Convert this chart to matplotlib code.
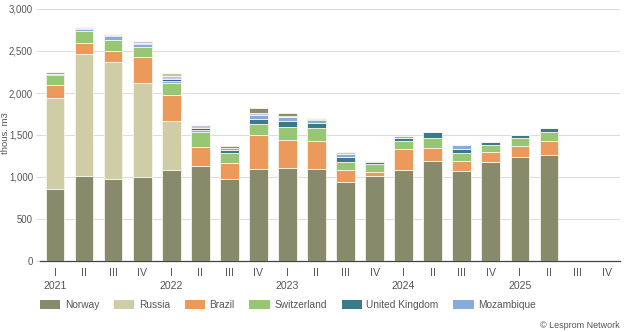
import numpy as np
import matplotlib
matplotlib.use("Agg")
from matplotlib import pyplot as plt
from matplotlib.patches import Patch
from matplotlib.transforms import blended_transform_factory

# quarters 2021 I .. 2025 IV, thous. m3
quarters = ["I", "II", "III", "IV"] * 5
years = ["2021", "2022", "2023", "2024", "2025"]

norway      = [860, 1010, 972, 1005, 1085, 1135, 972, 1095, 1106, 1095, 940, 1015, 1087, 1186, 1067, 1174, 1238, 1262, 0, 0]
russia      = [1085, 1460, 1395, 1118, 576, 0, 0, 0, 0, 0, 0, 0, 0, 0, 0, 0, 0, 0, 0, 0]
brazil      = [150, 127, 131, 308, 315, 218, 191, 405, 338, 328, 139, 40, 246, 154, 123, 123, 134, 166, 0, 0]
switzerland = [115, 146, 138, 122, 139, 187, 119, 129, 146, 160, 95, 100, 95, 124, 96, 87, 96, 103, 0, 0]
uk          = [15, 0, 0, 0, 0, 0, 40, 59, 72, 60, 64, 23, 42, 67, 51, 32, 32, 47, 0, 0]
mozambique  = [20, 15, 38, 25, 30, 25, 25, 45, 52, 31, 36, 16, 21, 0, 47, 0, 0, 0, 0, 0]
# smaller suppliers, not in the legend
other_navy   = [0, 12, 12, 18, 20, 20, 0, 0, 0, 16, 0, 0, 0, 0, 0, 0, 0, 0, 0, 0]
other_lav    = [0, 17, 14, 28, 33, 32, 0, 30, 16, 12, 19, 0, 0, 0, 0, 0, 0, 0, 0, 0]
other_beige  = [0, 0, 0, 0, 45, 0, 0, 0, 0, 0, 0, 0, 0, 0, 0, 0, 0, 0, 0, 0]
other_olive  = [0, 0, 0, 0, 0, 0, 20, 55, 30, 0, 0, 0, 0, 0, 0, 0, 0, 0, 0, 0]

series = [
    ("Norway", norway, "#878a6b"),
    ("Russia", russia, "#cfcda6"),
    ("Brazil", brazil, "#eb9a5b"),
    ("Switzerland", switzerland, "#98c773"),
    ("United Kingdom", uk, "#3b7b88"),
    ("Mozambique", mozambique, "#87acdb"),
    (None, other_navy, "#3f5a9e"),
    (None, other_lav, "#c3c5e2"),
    (None, other_beige, "#cbc4a0"),
    (None, other_olive, "#8d8a70"),
]

plt.rcParams['font.family'] = ['Liberation Sans', 'DejaVu Sans']
txt = "#555555"

fig = plt.figure(figsize=(6.24, 3.32), dpi=100)
ax = fig.add_axes([40 / 624, 1 - 261 / 332, 580 / 624, 252 / 332])

x = np.arange(len(quarters))
bottom = np.zeros(len(quarters))
for name, vals, col in series:
    v = np.array(vals, dtype=float)
    ax.bar(x, v, 0.64, bottom=bottom, color=col, edgecolor="#f7f5ec", linewidth=0.6, zorder=3)
    bottom += v

ax.set_ylim(0, 3000)
ax.set_xlim(-0.52, 19.45)
ax.set_yticks(np.arange(0, 3001, 500))
ax.set_yticklabels([f"{t:,}" for t in range(0, 3001, 500)])
ax.grid(axis="y", color="#dddddd", linewidth=0.8, zorder=0)
ax.set_xticks(x)
ax.set_xticklabels(quarters)
ax.tick_params(axis="x", length=0, pad=5, labelsize=7.6, colors=txt)
ax.tick_params(axis="y", length=3, color="#dddddd", pad=2, labelsize=6.9, colors=txt)
for s in ["top", "right", "left"]:
    ax.spines[s].set_visible(False)
ax.spines["bottom"].set_color("#444444")
ax.spines["bottom"].set_linewidth(0.9)
fig.text(6 / 624, 1 - 133 / 332, "thous. m3", rotation=90, ha="center", va="center",
         fontsize=6.8, color=txt)

tr = blended_transform_factory(ax.transData, ax.transAxes)
for i, yr in enumerate(years):
    ax.text(i * 4, -0.099, yr, transform=tr, ha="center", va="center", fontsize=7.6, color=txt)

handles = [Patch(facecolor=c, edgecolor="none", label=n) for n, v, c in series if n]
fig.legend(handles=handles, loc="center left", bbox_to_anchor=(31 / 624, 1 - 305 / 332),
           ncol=6, frameon=False, fontsize=7.3, handlelength=2.0, handleheight=0.95,
           handletextpad=0.45, columnspacing=1.45, labelcolor=txt)

fig.text(620 / 624, 1 - 325 / 332, "© Lesprom Network", ha="right", va="center", fontsize=6.5, color=txt)

fig.savefig("out.png", dpi=100)
